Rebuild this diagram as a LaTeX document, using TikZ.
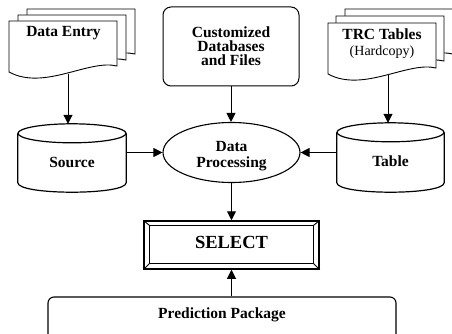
\documentclass[tikz,border=0pt]{standalone}
\usepackage{fontspec}
\setmainfont{Liberation Serif}
\usetikzlibrary{arrows.meta,shapes.geometric,calc}
\begin{document}
\begin{tikzpicture}[x=1pt,y=-1pt,
  lbl/.style={font=\fontsize{15.5}{16}\selectfont\bfseries, align=center, inner sep=0pt},
  arr/.style={line width=1pt, -{Triangle[length=9pt,width=9pt]}},
  docline/.style={draw, line width=0.9pt, fill=white},
  cyl/.style={draw, line width=1.2pt, fill=white},
  frame/.style={inner sep=0pt},
  pagedoc/.pic={\draw[docline] (0,0) -- (108,0) -- (108,45) .. controls (80,38) and (35,70) .. (0,51) -- cycle;}
]
\clip (0,0) rectangle (452,334);
\fill[white] (0,0) rectangle (452,334);

% Data Entry stack
\pic at (27,9) {pagedoc};
\pic at (18,15) {pagedoc};
\pic at (9,21) {pagedoc};
\node[lbl] (de) at (63.5,33.5) {Data Entry};
\coordinate (deout) at (68,74);

% TRC Tables stack
\pic at (345,9) {pagedoc};
\pic at (336,16) {pagedoc};
\pic at (328,23) {pagedoc};
\node[lbl] (trc) at (382,44) {TRC Tables\\{\mdseries\fontsize{14}{14}\selectfont (Hardcopy)}};
\coordinate (trcout) at (388,74);

% Customized databases
\node[lbl, draw, line width=1pt, rounded corners=8pt, minimum width=136, minimum height=79,
  font=\fontsize{15.5}{14}\selectfont\bfseries] (cdb) at (231,46.5) {Customized\\Databases\\and Files};

% Source cylinder
\node[frame, minimum width=108, minimum height=68] (source) at (72,158) {};
\draw[cyl] ($(source.north west)+(0,9.5)$) -- ($(source.south west)+(0,-9.5)$)
  .. controls +(0,12.67) and +(0,12.67) .. ($(source.south east)+(0,-9.5)$)
  -- ($(source.north east)+(0,9.5)$);
\draw[cyl] ($(source.north)+(0,9.5)$) ellipse [x radius=54, y radius=9.5];
\node[lbl] (sourcelbl) at ($(source.center)+(0,4)$) {Source};

% Table cylinder
\node[frame, minimum width=107, minimum height=69] (table) at (390.5,157.5) {};
\draw[cyl] ($(table.north west)+(0,9.5)$) -- ($(table.south west)+(0,-9.5)$)
  .. controls +(0,12.67) and +(0,12.67) .. ($(table.south east)+(0,-9.5)$)
  -- ($(table.north east)+(0,9.5)$);
\draw[cyl] ($(table.north)+(0,9.5)$) ellipse [x radius=53.5, y radius=9.5];
\node[lbl] (tablelbl) at ($(table.center)+(0,4)$) {Table};

% Data processing
\node[frame, ellipse, draw, line width=1.1pt, fill=white, minimum width=137, minimum height=60] (dp) at (231.5,152.5) {};
\node[lbl] (dplbl) at ($(dp.center)+(0,3.5)$) {Data\\Processing};

% SELECT
\node[frame, draw, line width=1.5pt, minimum width=175, minimum height=48] (select) at (231.5,245) {};
\draw[line width=1pt] ($(select.north west)+(6,5)$) rectangle ($(select.south east)+(-6,-6)$);
\draw[line width=0.9pt] (select.north west) -- ++(6,5);
\draw[line width=0.9pt] (select.north east) -- ++(-6,5);
\draw[line width=0.9pt] (select.south west) -- ++(6,-6);
\draw[line width=0.9pt] (select.south east) -- ++(-6,-6);
\node[lbl, font=\fontsize{18.5}{20}\selectfont\bfseries] (selectlbl) at ($(select.center)+(0,-3)$) {SELECT};

% Prediction package
\node[frame, draw, line width=1.1pt, rounded corners=6pt, minimum width=348, minimum height=60] (pp) at (222,327) {};
\node[lbl] (pplbl) at (222,315) {Prediction Package};

% Connectors
\draw[arr] (deout) -- (deout |- source.north);
\draw[arr] (trcout) -- (trcout |- table.north);
\draw[arr] (cdb.south) -- (cdb.south |- dp.north);
\draw[arr] (source.east |- dp.west) -- (dp.west);
\draw[arr] (table.west |- dp.east) -- (dp.east);
\draw[arr] (dp.south) -- (dp.south |- select.north);
\draw[arr] (pp.north -| select.south) -- (select.south);
\end{tikzpicture}
\end{document}
